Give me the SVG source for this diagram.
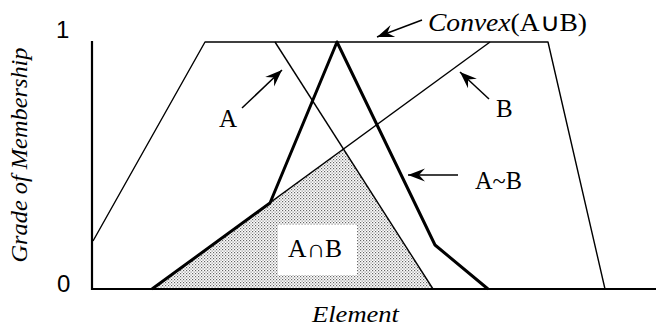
<svg xmlns="http://www.w3.org/2000/svg" width="656" height="327" viewBox="0 0 656 327">
<style>
.thin{fill:none;stroke:#000;stroke-width:1.4;stroke-linejoin:round}
.thick{fill:none;stroke:#000;stroke-width:3;stroke-linejoin:round}
.axis{fill:none;stroke:#000;stroke-width:2.2}
.lbl{font-family:"Liberation Serif","Times New Roman",serif;font-size:25px;fill:#000}
.it{font-style:italic}
.num{font-family:"Liberation Sans",Arial,sans-serif;font-size:24px;fill:#000}
.arr{fill:none;stroke:#000;stroke-width:1.5;marker-end:url(#ah)}
</style>
<defs>
<marker id="ah" markerUnits="userSpaceOnUse" markerWidth="18" markerHeight="16" refX="17" refY="8" orient="auto">
<path d="M0,1.5 L17,8 L0,14.5 L6,8 z" fill="#000"/>
</marker>
<pattern id="dots" width="3" height="3" patternUnits="userSpaceOnUse">
<rect width="3" height="3" fill="#fff"/>
<rect x="0" y="0" width="1.2" height="1.2" fill="#666"/>
<rect x="1.5" y="1.5" width="1.2" height="1.2" fill="#888"/>
</pattern>
</defs>
<rect width="656" height="327" fill="#fff"/>
<g id="intersection">
<polygon points="152,289 343.6,149 433,289" fill="url(#dots)"/>
<rect x="278" y="225" width="79" height="50" fill="#fff"/>
<text class="lbl" x="288" y="257" textLength="54" lengthAdjust="spacingAndGlyphs">A∩B</text>
</g>
<g id="axes">
<polyline class="axis" points="92,41 92,289 656,289"/>
<text class="num" x="56" y="38">1</text>
<text class="num" x="57" y="292">0</text>
<text class="lbl it" style="font-size:23px" transform="translate(27,155) rotate(-90)" text-anchor="middle" textLength="215" lengthAdjust="spacingAndGlyphs">Grade of Membership</text>
<text class="lbl it" style="font-size:23px" x="312" y="322" textLength="87" lengthAdjust="spacingAndGlyphs">Element</text>
</g>
<g id="convex">
<polyline class="thin" points="93,241 205,42 548,42 605,289"/>
<text class="lbl" x="428" y="31" textLength="159" lengthAdjust="spacingAndGlyphs"><tspan class="it">Convex</tspan>(A∪B)</text>
</g>
<g id="setA">
<polyline class="thin" points="275,42 433,289"/>
<text class="lbl" x="219" y="127">A</text>
</g>
<g id="setB">
<polyline class="thin" points="152,289 490,42"/>
<text class="lbl" x="496" y="117">B</text>
</g>
<g id="aNotB">
<polyline class="thick" points="152,289 270,203 337,42 435,245 488,289"/>
<text class="lbl" x="475" y="189" textLength="47" lengthAdjust="spacingAndGlyphs">A~B</text>
</g>
<g id="connectors">
<line class="arr" x1="422" y1="20" x2="377" y2="37"/>
<line class="arr" x1="242" y1="108" x2="282" y2="70"/>
<line class="arr" x1="489" y1="99" x2="460" y2="72"/>
<line class="arr" x1="458" y1="175" x2="408" y2="175"/>
</g>
</svg>
